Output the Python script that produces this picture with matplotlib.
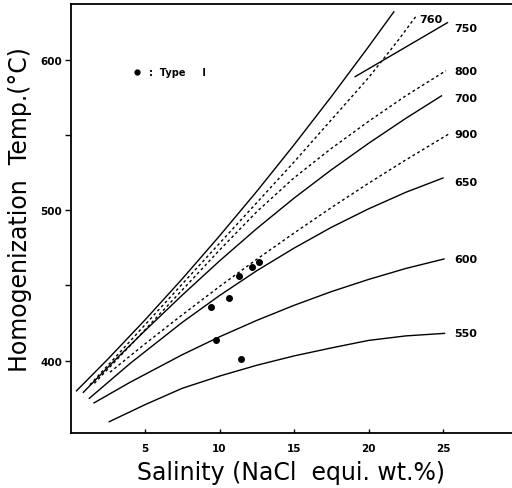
import matplotlib
matplotlib.use("Agg")
import matplotlib.pyplot as plt
from matplotlib.ticker import FixedLocator

# ---- data ----
a_x = [0.4, 2.5, 5.0, 7.5, 10.0, 12.5, 15.0, 17.5, 20.0, 21.7]
a_y = [380, 401.0, 427.1, 454.4, 482.9, 512.5, 543.4, 575.4, 608.6, 631.8]

i760_x = [1.3, 4.0, 7.5, 10.0, 12.5, 15.0, 17.5, 20.0, 22.0, 23.2]
i760_y = [384, 413, 451, 478, 505, 532, 560, 588, 613, 629]

i800_x = [1.6, 4.0, 7.5, 10.0, 12.5, 15.0, 17.5, 20.0, 22.5, 25.2]
i800_y = [385, 410, 447, 473.5, 499, 521.5, 541, 559, 576, 592.7]

i700_x = [0.86, 3.0, 5.0, 7.5, 10.0, 12.5, 15.0, 17.5, 20.0, 22.5, 24.9]
i700_y = [379, 400.6, 420.0, 443.6, 466.3, 487.8, 508.0, 526.8, 544.4, 561.0, 576.0]

i900_x = [2.65, 5.0, 7.5, 10.0, 12.5, 15.0, 17.5, 20.0, 22.5, 25.4]
i900_y = [392.4, 411.2, 430.5, 449.3, 467.4, 484.8, 501.7, 517.9, 533.4, 550.7]

i650_x = [1.26, 4.0, 7.5, 10.0, 12.5, 15.0, 17.5, 20.0, 22.5, 25.0]
i650_y = [375, 398.2, 425.5, 443.3, 459.8, 474.8, 488.6, 500.9, 511.9, 521.4]

i600_x = [1.58, 4.0, 7.5, 10.0, 12.5, 15.0, 17.5, 20.0, 22.5, 25.07]
i600_y = [372, 385.7, 404.0, 415.9, 426.8, 436.8, 445.9, 454.0, 461.3, 467.6]

i550_x = [2.6, 5.0, 7.5, 10.0, 12.5, 15.0, 17.5, 20.0, 22.5, 25.1]
i550_y = [359.5, 370.8, 381.7, 389.8, 397.0, 403.2, 408.5, 413.5, 416.5, 418.2]

i750_x = [19.1, 25.3]
i750_y = [588.7, 624.6]

type1_x = [9.41, 10.66, 11.30, 12.20, 12.65, 9.74, 11.42]
type1_y = [435.5, 442.0, 456.3, 462.3, 465.8, 414.0, 401.0]

curve_labels = ["750", "800", "700", "900", "650", "600", "550"]
curve_label_y = [620.9, 592.7, 574.3, 550.6, 519.0, 467.6, 418.2]

x_ticks = [5, 10, 15, 20, 25]
y_ticks = [400, 500, 600]
y_minor = [450, 550]

# ---- figure ----
W, H = 512, 489
fig = plt.figure(figsize=(W / 100, H / 100), dpi=100)
L, R, B, T = 70.5, 512, 434, 5
ax = fig.add_axes([L / W, 1 - B / H, (R - L) / W, (B - T) / H])
ax.set_xlim(0, (R - L) / 14.9)
ax.set_ylim(352, 637)

solid = dict(color="black", lw=1.0)
dash = dict(color="black", lw=1.0, ls=(0, (2.0, 2.0)))

ax.plot(a_x, a_y, **solid)
ax.plot(i760_x, i760_y, **dash)
ax.plot(i800_x, i800_y, **dash)
ax.plot(i700_x, i700_y, **solid)
ax.plot(i900_x, i900_y, **dash)
ax.plot(i650_x, i650_y, **solid)
ax.plot(i600_x, i600_y, **solid)
ax.plot(i550_x, i550_y, **solid)
ax.plot(i750_x, i750_y, **solid)

ax.plot(type1_x, type1_y, "o", color="black", ms=4, ls="none")

lab_kw = dict(fontsize=8, fontweight="bold", va="center", ha="left")
for lab, yy in zip(curve_labels, curve_label_y):
    ax.text(25.75, yy, lab, **lab_kw)
ax.text(23.4, 627, "760", **lab_kw)

# legend
ax.plot([4.44], [591.6], "o", color="black", ms=3.5)
ax.text(5.25, 591.6, ":  Type     I", fontsize=7, fontweight="bold", va="center", ha="left")

# ticks
ax.xaxis.set_major_locator(FixedLocator(x_ticks))
ax.yaxis.set_major_locator(FixedLocator(y_ticks))
ax.yaxis.set_minor_locator(FixedLocator(y_minor))
ax.tick_params(axis="x", direction="in", length=3, width=1, labelsize=7.5, pad=7)
ax.tick_params(axis="y", which="both", direction="out", length=4, width=1, labelsize=7.5, pad=2)
for lbl in ax.get_xticklabels() + ax.get_yticklabels():
    lbl.set_fontweight("bold")

ax.spines["right"].set_visible(False)
for s in ["left", "bottom", "top"]:
    ax.spines[s].set_linewidth(1.3)

fig.text(291 / W, 1 - 473 / H, "Salinity (NaCl  equi. wt.%)", fontsize=17,
         ha="center", va="center")
fig.text(20 / W, 1 - 210 / H, "Homogenization  Temp.(°C)", fontsize=17,
         rotation=90, ha="center", va="center")

fig.savefig("out.png", dpi=100)
